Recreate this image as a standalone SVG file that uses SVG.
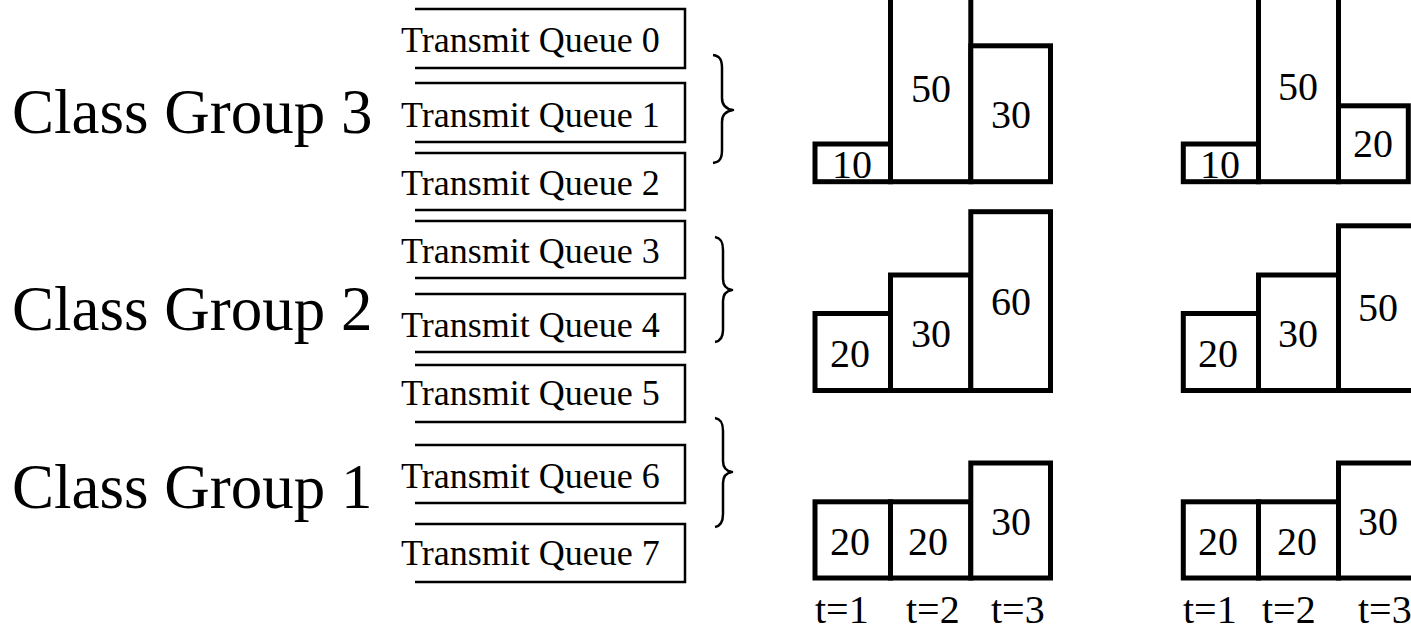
<svg xmlns="http://www.w3.org/2000/svg" width="1411" height="631" viewBox="0 0 1411 631">
<style>
.q{fill:none;stroke:#000;stroke-width:2.5}
.qt{font-family:"Liberation Serif","Times New Roman",serif;font-size:36px;fill:#000}
.cg{font-family:"Liberation Serif","Times New Roman",serif;font-size:63px;fill:#000}
.bar{fill:#fff;stroke:#000;stroke-width:5}
.n{font-family:"Liberation Serif","Times New Roman",serif;font-size:40px;fill:#000;text-anchor:middle}
.t{font-family:"Liberation Serif","Times New Roman",serif;font-size:40px;fill:#000}
.br{fill:none;stroke:#000;stroke-width:2.5;stroke-linejoin:round}
</style>
<rect x="0" y="0" width="1411" height="631" fill="#fff"/>

<g id="class-group-3"><text class="cg" x="12" y="133">Class Group 3</text></g>
<g id="class-group-2"><text class="cg" x="12" y="330">Class Group 2</text></g>
<g id="class-group-1"><text class="cg" x="12" y="508">Class Group 1</text></g>

<g id="queue-0"><path class="q" d="M415,9 H685 V68 H415"/><text class="qt" x="401" y="52">Transmit Queue 0</text></g>
<g id="queue-1"><path class="q" d="M415,83 H685 V142 H415"/><text class="qt" x="401" y="127">Transmit Queue 1</text></g>
<g id="queue-2"><path class="q" d="M415,153 H685 V210 H415"/><text class="qt" x="401" y="195">Transmit Queue 2</text></g>
<g id="queue-3"><path class="q" d="M415,221 H685 V278 H415"/><text class="qt" x="401" y="263">Transmit Queue 3</text></g>
<g id="queue-4"><path class="q" d="M415,294 H685 V352 H415"/><text class="qt" x="401" y="337">Transmit Queue 4</text></g>
<g id="queue-5"><path class="q" d="M415,365 H685 V422 H415"/><text class="qt" x="401" y="405">Transmit Queue 5</text></g>
<g id="queue-6"><path class="q" d="M415,445 H685 V503 H415"/><text class="qt" x="401" y="488">Transmit Queue 6</text></g>
<g id="queue-7"><path class="q" d="M415,524 H685 V582 H415"/><text class="qt" x="401" y="565">Transmit Queue 7</text></g>

<g id="braces">
<path class="br" d="M713,55 C720,56 722,60 722,68 L722,98 C722,105 726,109 733,110 C726,111 722,115 722,122 L722,150 C722,158 720,162 713,163"/>
<path class="br" d="M715,237 C721,238 723,242 723,250 L723,279 C723,285 726,289 732,290 C726,291 723,295 723,301 L723,330 C723,337 721,341 715,342"/>
<path class="br" d="M715,418 C721,419 723,423 723,431 L723,461 C723,467 726,471 732,472 C726,473 723,477 723,483 L723,514 C723,521 721,526 715,527"/>
</g>

<g id="chart-a-row1">
<rect class="bar" x="815" y="144" width="75.5" height="37.7"/>
<rect class="bar" x="890.5" y="-10" width="80.3" height="191.7"/>
<rect class="bar" x="970.8" y="45.8" width="79.7" height="135.9"/>
<text class="n" x="852" y="178">10</text>
<text class="n" x="931" y="102">50</text>
<text class="n" x="1011" y="128">30</text>
</g>
<g id="chart-a-row2">
<rect class="bar" x="815" y="313.5" width="75.5" height="77"/>
<rect class="bar" x="890.5" y="275" width="80.3" height="115.5"/>
<rect class="bar" x="970.8" y="211.7" width="79.7" height="178.8"/>
<text class="n" x="850" y="367">20</text>
<text class="n" x="931" y="347">30</text>
<text class="n" x="1011" y="315">60</text>
</g>
<g id="chart-a-row3">
<rect class="bar" x="815" y="501.8" width="75.5" height="76.2"/>
<rect class="bar" x="890.5" y="501.8" width="80.3" height="76.2"/>
<rect class="bar" x="970.8" y="463" width="79.7" height="115"/>
<text class="n" x="850" y="555">20</text>
<text class="n" x="928" y="555">20</text>
<text class="n" x="1011" y="535">30</text>
</g>
<g id="axis-a">
<text class="t" x="815" y="623">t=1</text>
<text class="t" x="906" y="623">t=2</text>
<text class="t" x="991" y="623">t=3</text>
</g>

<g id="chart-b-row1">
<rect class="bar" x="1183.3" y="144" width="75.2" height="37.7"/>
<rect class="bar" x="1258.5" y="-10" width="80" height="191.7"/>
<rect class="bar" x="1338.5" y="105.8" width="69.8" height="75.9"/>
<text class="n" x="1220" y="178">10</text>
<text class="n" x="1298" y="100">50</text>
<text class="n" x="1373" y="157">20</text>
</g>
<g id="chart-b-row2">
<rect class="bar" x="1183.3" y="313.5" width="75.2" height="77"/>
<rect class="bar" x="1258.5" y="275" width="80" height="115.5"/>
<rect class="bar" x="1338.5" y="225.8" width="82" height="164.7"/>
<text class="n" x="1218" y="367">20</text>
<text class="n" x="1298" y="347">30</text>
<text class="n" x="1378" y="321">50</text>
</g>
<g id="chart-b-row3">
<rect class="bar" x="1183.3" y="501.8" width="75.2" height="76.2"/>
<rect class="bar" x="1258.5" y="501.8" width="80" height="76.2"/>
<rect class="bar" x="1338.5" y="463" width="82" height="115"/>
<text class="n" x="1218" y="555">20</text>
<text class="n" x="1297" y="555">20</text>
<text class="n" x="1378" y="535">30</text>
</g>
<g id="axis-b">
<text class="t" x="1183" y="623">t=1</text>
<text class="t" x="1262" y="623">t=2</text>
<text class="t" x="1358" y="623">t=3</text>
</g>
</svg>
